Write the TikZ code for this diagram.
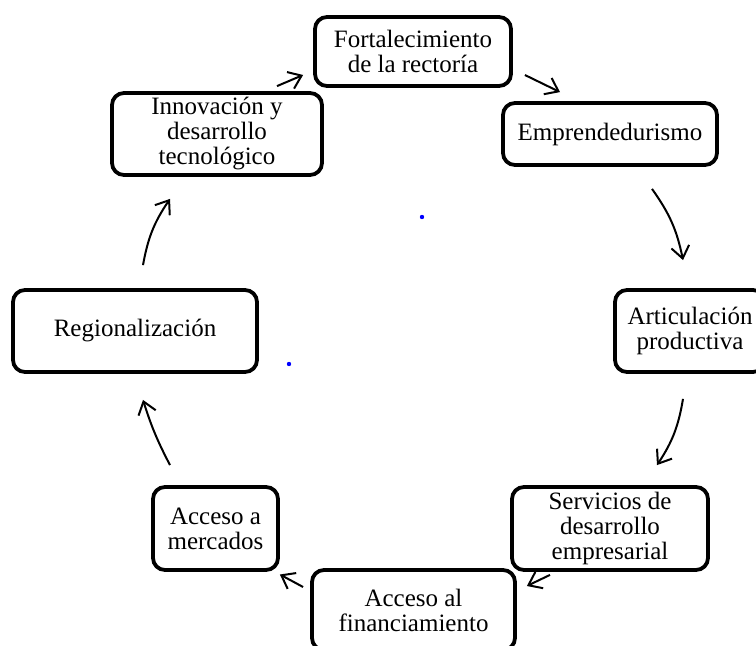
\documentclass[tikz,border=0pt]{standalone}
\usepackage{fontspec}
\setmainfont{Liberation Serif}
\usetikzlibrary{arrows.meta}

\tikzset{
    caja/.style={draw, line width=3.8pt, rounded corners=12pt, align=center,
        inner sep=2pt, font=\fontsize{25}{25}\selectfont},
    flecha/.style={-{Straight Barb[length=12pt, width=18pt, line width=2pt]},
        line width=2pt}
}

\begin{document}
\begin{tikzpicture}[x=1pt, y=1pt]

\useasboundingbox (0,0) rectangle (756,646);


\node[caja, minimum width=196pt, minimum height=69pt] (fort) at (413,594.5) {Fortalecimiento\\de la rectoría};
\node[caja, minimum width=214pt, minimum height=62pt] (empr) at (610,512) {Emprendedurismo};
\node[caja, minimum width=150pt, minimum height=82pt] (artic) at (690,315) {Articulación\\productiva};
\node[caja, minimum width=196pt, minimum height=83pt] (serv) at (610,117.5) {Servicios de\\desarrollo\\empresarial};
\node[caja, minimum width=203pt, minimum height=80pt] (finan) at (413.5,36) {Acceso al\\financiamiento};
\node[caja, minimum width=125pt, minimum height=83pt] (merc) at (215.5,117.5) {Acceso a\\mercados};
\node[caja, minimum width=244pt, minimum height=82pt] (reg) at (135,315) {Regionalización};
\node[caja, minimum width=210pt, minimum height=82pt] (innov) at (217,512) {Innovación y\\desarrollo\\tecnológico};


\draw[flecha] ([xshift=12pt, yshift=-23.5pt]fort.east) -- ([xshift=-50pt, yshift=9pt]empr.north);
\draw[flecha] ([xshift=42pt, yshift=-22pt]empr.south) to[bend left=12] ([xshift=-7pt, yshift=28pt]artic.north);
\draw[flecha] ([xshift=-7pt, yshift=-25pt]artic.south) to[bend left=12] ([xshift=47pt, yshift=20pt]serv.north);
\draw[flecha] ([xshift=-60pt, yshift=-3pt]serv.south) -- ([xshift=10pt, yshift=24pt]finan.east);
\draw[flecha] ([xshift=-7pt, yshift=23pt]finan.west) -- ([yshift=-46pt]merc.east);
\draw[flecha] ([xshift=-45.5pt, yshift=20pt]merc.north) to[bend left=5] ([xshift=8pt, yshift=-26pt]reg.south);
\draw[flecha] ([xshift=8pt, yshift=23pt]reg.north) to[bend left=12] ([xshift=-47pt, yshift=-22pt]innov.south);
\draw[flecha] ([xshift=60pt, yshift=5pt]innov.north) -- ([xshift=-10pt, yshift=-23.5pt]fort.west);


\fill[blue] (422,429) circle (2.2);
\fill[blue] (289,282) circle (2.2);

\end{tikzpicture}
\end{document}
